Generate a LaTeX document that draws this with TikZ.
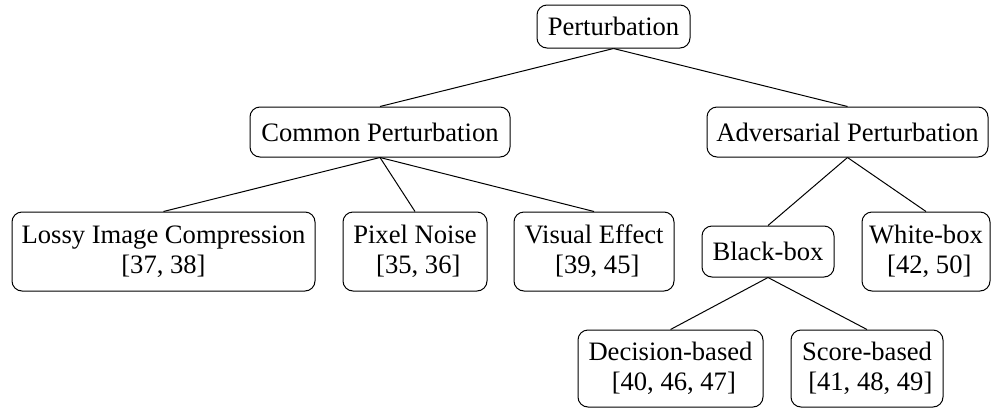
\documentclass[tikz,border=0pt]{standalone}
\usepackage{fontspec}
\setmainfont{Liberation Serif}
\begin{document}
\begin{tikzpicture}[x=0.5pt,y=-0.5pt,
  box/.style={draw, rounded corners=5pt, align=center, inner sep=0pt, line width=0.5pt,
    font=\fontsize{13.3}{15}\selectfont},
  edge/.style={line width=0.5pt}]
\useasboundingbox (0,0) rectangle (992,408);
\node[box, minimum width=76.5pt, minimum height=21.5pt] (p) at (613.5,26.5) {Perturbation};
\node[box, minimum width=130pt, minimum height=25pt] (c) at (380,132) {Common Perturbation};
\node[box, minimum width=140.5pt, minimum height=25pt] (a) at (847.5,132) {Adversarial Perturbation};
\node[box, minimum width=151.5pt, minimum height=39.5pt] (l) at (163.5,251.5) {Lossy Image Compression\\{[37, 38]}};
\node[box, minimum width=72pt, minimum height=39.5pt] (n) at (415,251.5) {Pixel Noise\\{~[35, 36]}};
\node[box, minimum width=80pt, minimum height=39.5pt] (v) at (594,251.5) {Visual Effect\\{~[39, 45]}};
\node[box, minimum width=66pt, minimum height=25.5pt] (b) at (768,251.5) {Black-box};
\node[box, minimum width=64pt, minimum height=39.5pt] (w) at (926,251.5) {White-box\\{~[42, 50]}};
\node[box, minimum width=92.5pt, minimum height=38.5pt] (d) at (670.5,368.5) {Decision-based\\{~[40, 46, 47]}};
\node[box, minimum width=76pt, minimum height=38.5pt] (s) at (867,368.5) {Score-based\\{~[41, 48, 49]}};
\draw[edge] (p.south) -- (c.north);
\draw[edge] (p.south) -- (a.north);
\draw[edge] (c.south) -- (l.north);
\draw[edge] (c.south) -- (n.north);
\draw[edge] (c.south) -- (v.north);
\draw[edge] (a.south) -- (b.north);
\draw[edge] (a.south) -- (w.north);
\draw[edge] (b.south) -- (d.north);
\draw[edge] (b.south) -- (s.north);
\end{tikzpicture}
\end{document}
